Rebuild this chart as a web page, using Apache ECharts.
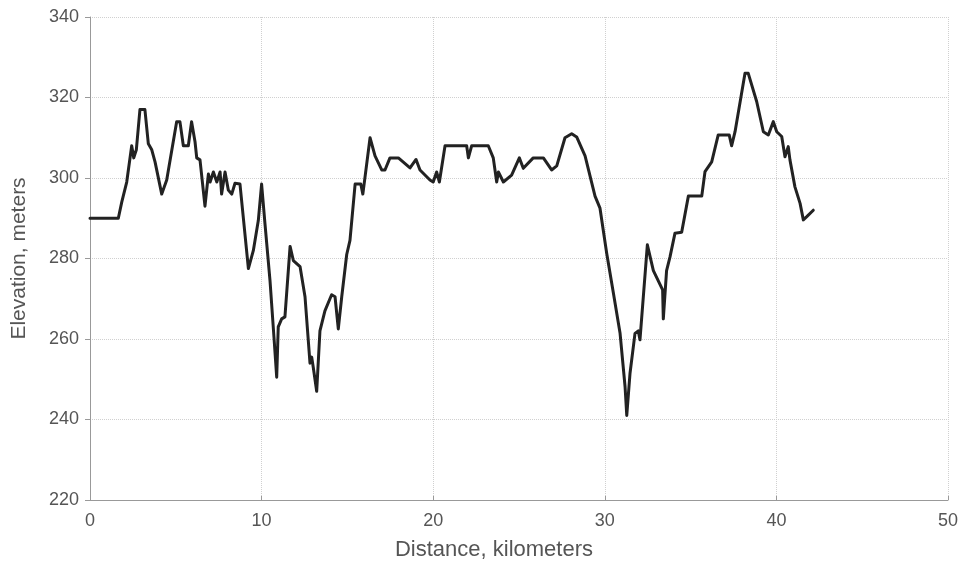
<!DOCTYPE html>
<html>
<head>
<meta charset="utf-8">
<script src="https://cdn.jsdelivr.net/npm/echarts@6/dist/echarts.min.js"></script>
<style>html,body{margin:0;padding:0;background:#fff;}#c{width:962px;height:567px;}</style>
</head>
<body>
<div id="c"></div>
<script>
const distanceKm = [0,1.65,1.85,2.14,2.43,2.55,2.7,2.91,3.2,3.4,3.6,3.79,4.18,4.47,5.05,5.24,5.44,5.73,5.92,6.12,6.22,6.41,6.70,6.9,7.0,7.19,7.39,7.58,7.67,7.87,8.06,8.26,8.45,8.74,9.23,9.52,9.81,10.0,10.2,10.49,10.72,10.88,10.97,11.17,11.36,11.66,11.85,12.24,12.53,12.82,12.92,13.01,13.21,13.40,13.69,14.08,14.28,14.47,14.67,14.96,15.15,15.45,15.78,15.9,16.32,16.61,17.0,17.19,17.48,17.97,18.65,19.0,19.23,19.81,20.0,20.2,20.36,20.69,21.95,22.05,22.24,23.21,23.5,23.7,23.8,24.09,24.57,25.02,25.25,25.83,26.42,26.9,27.2,27.68,28.07,28.36,28.85,29.43,29.72,30.11,30.5,30.89,31.18,31.28,31.47,31.76,31.95,32.05,32.48,32.83,33.37,33.41,33.6,33.8,34.09,34.48,34.87,35.65,35.84,36.23,36.61,37.25,37.39,37.59,38.17,38.36,38.85,39.24,39.53,39.82,40.02,40.31,40.5,40.69,40.79,41.08,41.38,41.57,41.77,42.15];
const elevationM = [290,290,294,299,308,305,307,317,317,308.5,307,304,296,299.5,314,314,308,308,314,309,305,304.5,293,301,299,301.5,299,301.5,296,301.5,297,296,298.7,298.5,277.5,282,289.5,298.5,288.5,274.5,260.5,250.5,263,265,265.5,283,279.5,278,270.5,254,255.5,253,247,262,267,271,270.5,262.5,270.5,281,284.5,298.5,298.5,296,310,305.5,302,302,305,305,302.5,304.6,302,299.5,299,301.5,299,308,308,305,308,308,305,299,301.5,299,300.7,305,302.4,305,305,302,303,310,311,310.2,305.5,295.5,292.5,281.3,271.4,261.4,248.2,241,251.5,261.4,262,259.8,283.4,277,272.2,265,277,280.4,286.3,286.5,295.5,295.5,301.6,304,310.7,310.7,308,311.5,326,326,319,311.5,310.7,314,311.5,310.3,305.3,307.8,304.5,297.8,293.7,289.6,290.4,292];
const xTicks = [0,10,20,30,40,50];
const yTicks = [220,240,260,280,300,320,340];

const chart = echarts.init(document.getElementById('c'));
const txt = '#555';
const ff = 'Liberation Sans, Arial, sans-serif';
chart.setOption({
  animation: false,
  backgroundColor: '#fff',
  grid: {left: 90, right: 14, top: 17, bottom: 67},
  xAxis: {
    type: 'value', min: xTicks[0], max: xTicks[xTicks.length-1], interval: 10,
    name: 'Distance, kilometers', nameLocation: 'middle', nameGap: 39,
    nameTextStyle: {color: txt, fontSize: 22, fontFamily: ff, padding: [0, 50, 0, 0]},
    axisLine: {show: true, lineStyle: {color: '#999', width: 1}},
    axisTick: {show: true, inside: true, length: 4, lineStyle: {color: '#999'}},
    axisLabel: {color: txt, fontSize: 18, fontFamily: ff, margin: 12},
    splitLine: {show: true, lineStyle: {color: '#d0d0d0', type: 'dotted', width: 1}}
  },
  yAxis: {
    type: 'value', min: yTicks[0], max: yTicks[yTicks.length-1], interval: 20,
    name: 'Elevation, meters', nameLocation: 'middle', nameGap: 60,
    nameTextStyle: {color: txt, fontSize: 21, fontFamily: ff},
    axisLine: {show: true, lineStyle: {color: '#999', width: 1}},
    axisTick: {show: true, length: 5, lineStyle: {color: '#999'}},
    axisLabel: {color: txt, fontSize: 18, fontFamily: ff, margin: 11},
    splitLine: {show: true, lineStyle: {color: '#d0d0d0', type: 'dotted', width: 1}}
  },
  series: [{
    type: 'line',
    data: distanceKm.map((d, i) => [d, elevationM[i]]),
    showSymbol: false,
    lineStyle: {color: '#222', width: 3, join: 'round', cap: 'round'},
    z: 3
  }]
});
</script>
</body>
</html>
